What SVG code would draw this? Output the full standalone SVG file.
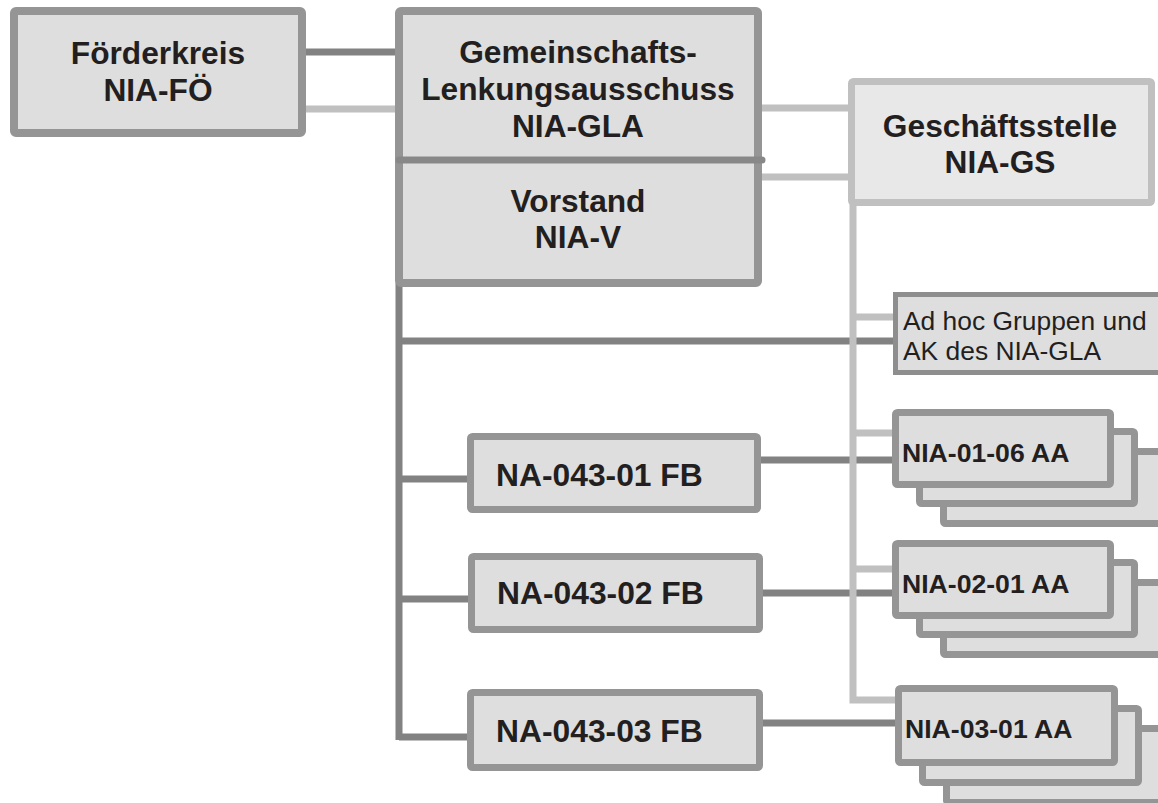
<svg xmlns="http://www.w3.org/2000/svg" width="1158" height="803" viewBox="0 0 1158 803">
<style>
.box{fill:#dedede;stroke:#959595;stroke-width:7;}
.big{stroke-width:8;}
.gs{fill:#e8e8e8;stroke:#c0c0c0;stroke-width:7;}
.adhoc{fill:#dedede;stroke:#8e8e8e;stroke-width:5;}
.dk{stroke:#828282;stroke-width:7;fill:none;}
.lt{stroke:#c0c0c0;stroke-width:7;fill:none;}
.t{font-family:"Liberation Sans",Arial,sans-serif;font-weight:bold;fill:#231f20;}
.c{text-anchor:middle;font-size:31.7px;}
.fb{font-size:31.8px;}
.aa{font-size:26.6px;}
.r{font-family:"Liberation Sans",Arial,sans-serif;font-size:26.4px;fill:#231f20;}
</style>
<rect width="1158" height="803" fill="#ffffff"/>
<g id="connectors">
<line class="dk" x1="306" y1="52" x2="397" y2="52"/>
<line class="lt" x1="306" y1="109" x2="397" y2="109"/>
<line class="lt" x1="760" y1="108" x2="851" y2="108"/>
<line class="lt" x1="760" y1="177" x2="851" y2="177"/>
<line class="dk" x1="399" y1="283" x2="399" y2="740"/>
<polyline class="dk" points="399,737 467,737"/>
<line class="dk" x1="399" y1="341" x2="895" y2="341"/>
<line class="dk" x1="399" y1="479" x2="467" y2="479"/>
<line class="dk" x1="399" y1="599" x2="468" y2="599"/>
<line class="dk" x1="761" y1="460" x2="893" y2="460"/>
<line class="dk" x1="763" y1="593" x2="893" y2="593"/>
<line class="dk" x1="763" y1="723" x2="896" y2="723"/>
<polyline class="lt" points="853,204 853,700 896,700"/>
<line class="lt" x1="853" y1="317" x2="894" y2="317"/>
<line class="lt" x1="853" y1="433" x2="893" y2="433"/>
<line class="lt" x1="853" y1="569" x2="893" y2="569"/>
</g>
<g id="foerderkreis">
<rect class="box big" x="14" y="11" width="288" height="122" rx="2"/>
<text class="t c" x="158" y="64">Förderkreis</text>
<text class="t c" x="158" y="101">NIA-FÖ</text>
</g>
<g id="gla-vorstand">
<rect class="box big" x="399" y="11" width="359" height="272" rx="2"/>
<line x1="399" y1="160" x2="762" y2="160" stroke="#888888" stroke-width="7" stroke-linecap="round"/>
<text class="t c" x="578" y="63">Gemeinschafts-</text>
<text class="t c" x="578" y="100">Lenkungsausschuss</text>
<text class="t c" x="578" y="137">NIA-GLA</text>
<text class="t c" x="578" y="212">Vorstand</text>
<text class="t c" x="578" y="248">NIA-V</text>
</g>
<g id="geschaeftsstelle">
<rect class="gs" x="851.5" y="81.5" width="300" height="121" rx="2"/>
<text class="t c" x="1000" y="137">Geschäftsstelle</text>
<text class="t c" x="1000" y="173">NIA-GS</text>
</g>
<g id="adhoc">
<rect class="adhoc" x="895.5" y="294.5" width="270" height="78"/>
<text class="r" x="903" y="330">Ad hoc Gruppen und</text>
<text class="r" x="903" y="360">AK des NIA-GLA</text>
</g>
<g id="fb1">
<rect class="box" x="470.5" y="436.5" width="287" height="73" rx="2"/>
<text class="t fb" x="496" y="486">NA-043-01 FB</text>
</g>
<g id="fb2">
<rect class="box" x="471.5" y="556.5" width="288" height="73" rx="2"/>
<text class="t fb" x="497" y="604">NA-043-02 FB</text>
</g>
<g id="fb3">
<rect class="box" x="470.5" y="692.5" width="289" height="75" rx="2"/>
<text class="t fb" x="496" y="742">NA-043-03 FB</text>
</g>
<g id="aa1">
<rect class="box" x="943.5" y="451.5" width="220" height="72" rx="2"/>
<rect class="box" x="919.5" y="431.5" width="215" height="72" rx="2"/>
<rect class="box" x="895.5" y="412.5" width="215" height="72" rx="2"/>
<text class="t aa" x="902" y="462">NIA-01-06 AA</text>
</g>
<g id="aa2">
<rect class="box" x="943.5" y="582.5" width="220" height="72" rx="2"/>
<rect class="box" x="919.5" y="562.5" width="215" height="72" rx="2"/>
<rect class="box" x="895.5" y="543.5" width="215" height="72" rx="2"/>
<text class="t aa" x="902" y="593">NIA-02-01 AA</text>
</g>
<g id="aa3">
<rect class="box" x="946.5" y="728.5" width="220" height="74" rx="2"/>
<rect class="box" x="922.5" y="708.5" width="216" height="74" rx="2"/>
<rect class="box" x="898.5" y="688.5" width="216" height="74" rx="2"/>
<text class="t aa" x="905" y="738">NIA-03-01 AA</text>
</g>
</svg>
